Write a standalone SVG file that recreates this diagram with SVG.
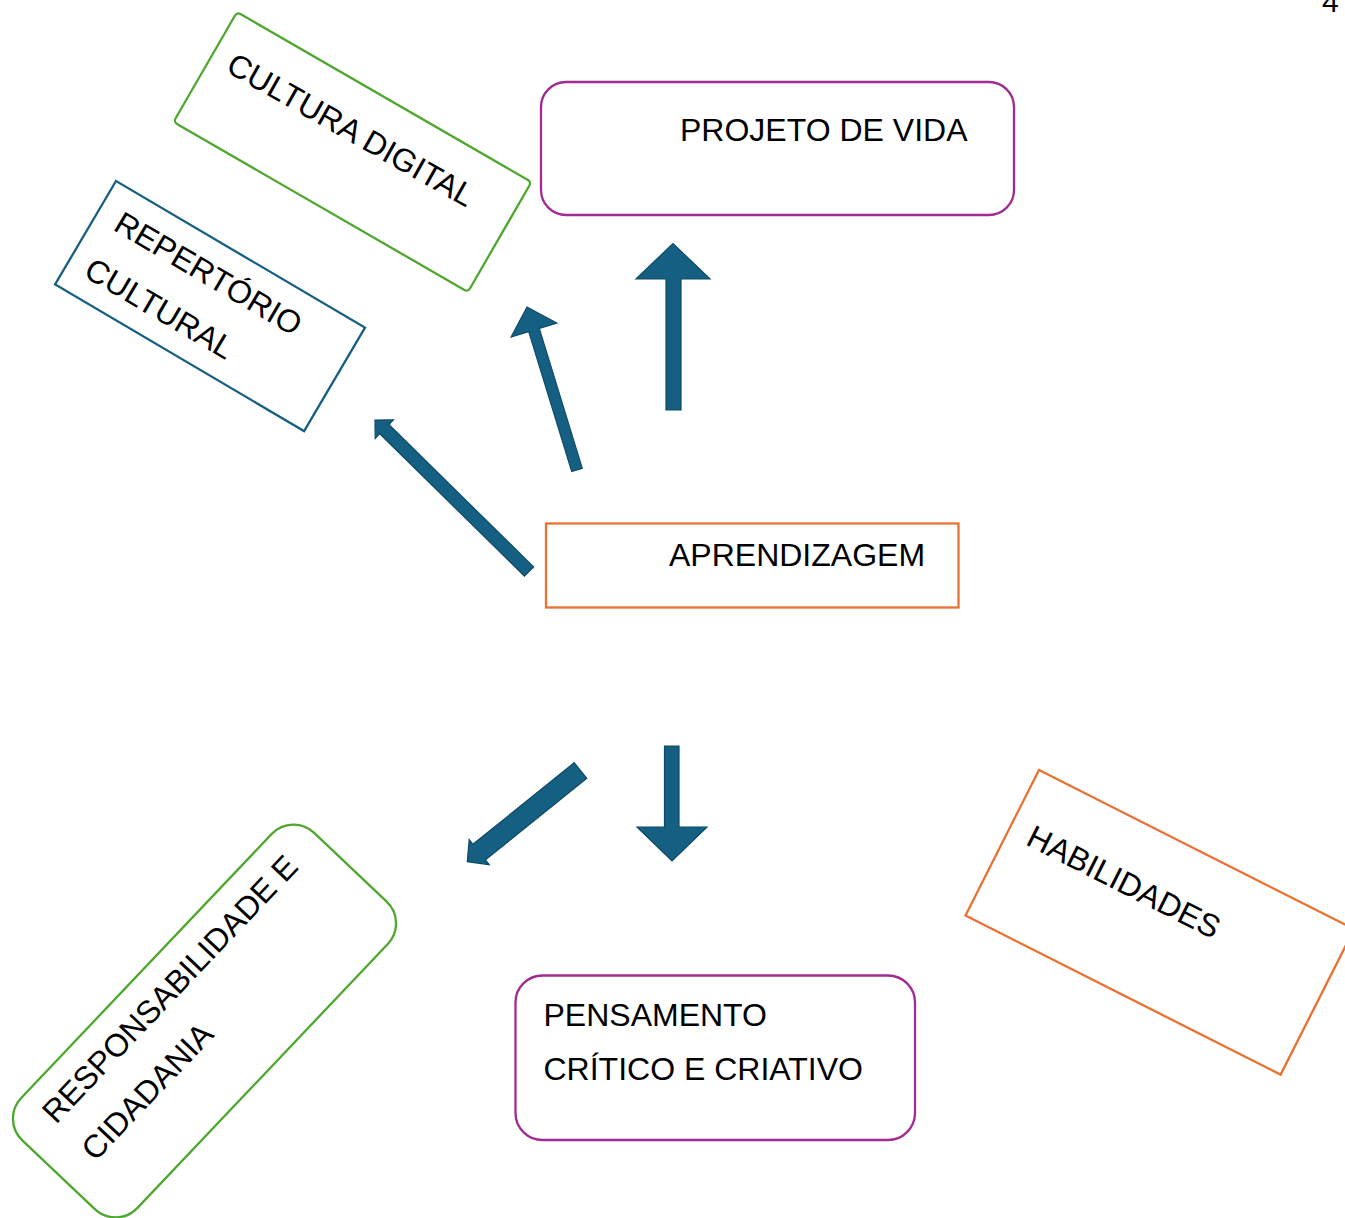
<svg xmlns="http://www.w3.org/2000/svg" width="1345" height="1218" viewBox="0 0 1345 1218">
<style>
  .t { font-family: "Liberation Sans", Arial, sans-serif; font-size: 32px; fill: #000; }
  .box { fill: #fff; stroke-width: 2.3; }
  .purple { stroke: #A02B93; }
  .orange { stroke: #E97132; }
  .green { stroke: #4EA72E; }
  .blue { stroke: #156082; }
  .arrow { fill: #155F82; stroke: #0E4A66; stroke-width: 1.2; stroke-linejoin: miter; }
</style>
<rect width="1345" height="1218" fill="#fff"/>
<text class="t" x="1322" y="12" style="font-size:30px">4</text>

<g id="cultura-digital">
  <rect class="box green" x="0" y="0" width="340" height="127" rx="4" transform="translate(237,12) rotate(30)"/>
  <text class="t" transform="translate(224.5,71) rotate(29.5)">CULTURA DIGITAL</text>
</g>

<g id="repertorio-cultural">
  <rect class="box blue" x="0" y="0" width="289" height="120" transform="translate(116,181) rotate(30.5)"/>
  <g transform="translate(112,229.5) rotate(30.5)">
    <text class="t" x="0" y="0">REPERTÓRIO</text>
    <text class="t" x="-2" y="55">CULTURAL</text>
  </g>
</g>

<g id="projeto-de-vida">
  <rect class="box purple" x="541" y="82" width="473" height="133" rx="25"/>
  <text class="t" x="680" y="140.5">PROJETO DE VIDA</text>
</g>

<g id="aprendizagem">
  <rect class="box orange" x="546" y="523.5" width="412.5" height="84"/>
  <text class="t" x="669" y="565.5">APRENDIZAGEM</text>
</g>

<g id="pensamento">
  <rect class="box purple" x="515.5" y="975.5" width="399.5" height="164.5" rx="27"/>
  <text class="t" x="543.5" y="1025.5">PENSAMENTO</text>
  <text class="t" x="543.5" y="1079.5">CRÍTICO E CRIATIVO</text>
</g>

<g id="habilidades">
  <rect class="box orange" x="0" y="0" width="353" height="163" transform="translate(1039,770) rotate(26.8)"/>
  <text class="t" transform="translate(1024.5,844) rotate(26.8)">HABILIDADES</text>
</g>

<g id="responsabilidade">
  <rect class="box green" x="-212" y="-80" width="424" height="160" rx="30" transform="translate(204.5,1021) rotate(-46.5)"/>
  <g transform="translate(56,1125) rotate(-46.5)">
    <text class="t" x="0" y="0">RESPONSABILIDADE E</text>
    <text class="t" x="0" y="54">CIDADANIA</text>
  </g>
</g>

<g id="connectors">
  <polygon class="arrow" points="666,410 681,410 681,279 710,279 673,243.5 636,279 666,279"/>
  <polygon class="arrow" points="582.3,468.4 539.3,328.4 556.9,323 527,307 511.1,337 528.7,331.6 571.7,471.6"/>
  <polygon class="arrow" points="533.6,566.9 388.9,424.5 393.4,419.8 375,420 375.2,438.4 379.7,433.7 524.4,576.1"/>
  <polygon class="arrow" points="586.8,778.3 485.5,859.9 489.2,864.6 467.3,861.7 469.2,839.6 472.9,844.3 574.2,762.7"/>
  <polygon class="arrow" points="664.5,746 679,746 679,827 707,827 672,861 637,827 664.5,827"/>
</g>
</svg>
